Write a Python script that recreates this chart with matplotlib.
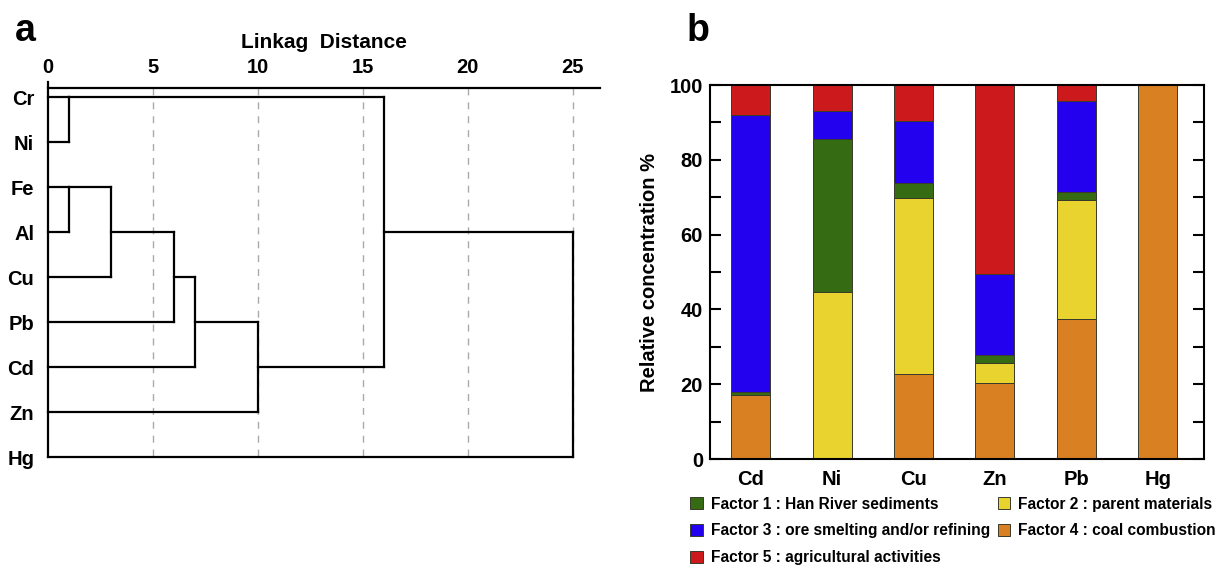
import math
import numpy as np
import matplotlib
matplotlib.use("Agg")
import matplotlib.pyplot as plt

plt.rcParams['font.family'] = ['Liberation Sans', 'DejaVu Sans']
plt.rcParams['font.weight'] = 'bold'

# --- panel a: cluster tree ---
leaves = ['Cr', 'Ni', 'Fe', 'Al', 'Cu', 'Pb', 'Cd', 'Zn', 'Hg']
# (child a, child b, linkage distance); ids >= 9 refer to earlier merges
merges = [(0, 1, 1), (2, 3, 1), (10, 4, 3), (11, 5, 6),
          (12, 6, 7), (13, 7, 10), (9, 14, 16), (15, 8, 25)]
dist_ticks = [0, 5, 10, 15, 20, 25]

# --- panel b: stacked source contributions (%) ---
metals = ['Cd', 'Ni', 'Cu', 'Zn', 'Pb', 'Hg']
factor1 = [0.7, 41.0, 3.8, 2.1, 2.1, 0]
factor2 = [0, 44.6, 47.1, 5.2, 31.9, 0]
factor3 = [74.0, 7.4, 16.6, 21.8, 24.3, 0]
factor4 = [17.2, 0, 22.8, 20.4, 37.4, 100]
factor5 = [8.1, 7.0, 9.7, 50.5, 4.3, 0]
factor_labels = ['Factor 1 : Han River sediments',
                 'Factor 2 : parent materials',
                 'Factor 3 : ore smelting and/or refining',
                 'Factor 4 : coal combustion',
                 'Factor 5 : agricultural activities']
colors = ['#356b12', '#e9d42f', '#2300ee', '#d98022', '#cc1a1c']

fig = plt.figure(figsize=(12.22, 5.69), dpi=100)

# ---------------- dendrogram ----------------
ax1 = fig.add_axes([0.0393, 0.1968, 0.4517, 0.6485])
pos = {i: i for i in range(len(leaves))}
height = {i: 0 for i in range(len(leaves))}
lw = 1.6
for k, (a, b, d) in enumerate(merges):
    node = len(leaves) + k
    for c in (a, b):
        ax1.plot([height[c], d], [pos[c], pos[c]], color='black', lw=lw,
                 clip_on=False, solid_capstyle='projecting')
    ax1.plot([d, d], [pos[a], pos[b]], color='black', lw=lw,
             clip_on=False, solid_capstyle='projecting')
    pos[node] = math.floor((pos[a] + pos[b]) / 2)
    height[node] = d

for t in dist_ticks[1:]:
    ax1.plot([t, t], [-0.2, 8], color='#aaaaaa', lw=1.0,
             dashes=(5, 5), zorder=0)

ax1.set_xlim(0, 26.3)
ax1.set_ylim(8, -0.2)
ax1.spines['right'].set_visible(False)
ax1.spines['bottom'].set_visible(False)
ax1.spines['top'].set_linewidth(lw)
ax1.spines['left'].set_linewidth(lw)
ax1.spines['left'].set_bounds(8, -0.33)
ax1.xaxis.tick_top()
ax1.set_xticks(dist_ticks)
ax1.tick_params(axis='x', length=0, pad=8, labelsize=14.5)
ax1.set_yticks(range(len(leaves)))
ax1.set_yticklabels(leaves)
ax1.tick_params(axis='y', length=0, pad=10, labelsize=14.5)
ax1.set_title('Linkag  Distance', fontsize=15, fontweight='bold', pad=29)
fig.text(0.012, 0.945, 'a', fontsize=27, fontweight='bold', va='center')

# ---------------- stacked bars ----------------
ax2 = fig.add_axes([0.581, 0.1933, 0.4043, 0.6573])
x = np.arange(len(metals))
stack = [(factor4, 3), (factor2, 1), (factor1, 0), (factor3, 2), (factor5, 4)]
bottom = np.zeros(len(metals))
handles = {}
for vals, idx in stack:
    bars = ax2.bar(x, vals, width=0.48, bottom=bottom, color=colors[idx],
                   edgecolor='#3a3a2a', linewidth=0.7, label=factor_labels[idx])
    handles[idx] = bars
    bottom += np.array(vals)

ax2.set_xlim(-0.5, 5.57)
ax2.set_ylim(0, 100)
ax2.set_xticks(x)
ax2.set_xticklabels(metals)
ax2.set_yticks([0, 20, 40, 60, 80, 100])
ax2.set_yticks([10, 30, 50, 70, 90], minor=True)
ax2.tick_params(axis='x', length=0, pad=8, labelsize=14.5)
ax2.tick_params(axis='y', which='both', direction='in', length=8, width=1.5,
                left=True, right=True, labelsize=14.5, pad=5)
for s in ax2.spines.values():
    s.set_linewidth(1.5)
ax2.set_ylabel('Relative concentration %', fontsize=14.5, fontweight='bold',
               labelpad=8)
fig.text(0.562, 0.945, 'b', fontsize=27, fontweight='bold', va='center')

order = [0, 2, 4, 1, 3]
fig.legend([handles[i] for i in order], [factor_labels[i] for i in order],
           loc='upper left', bbox_to_anchor=(0.565, 0.127), ncol=2,
           frameon=False, fontsize=11.2, handlelength=0.8, handleheight=0.8,
           handletextpad=0.5, columnspacing=0.5, labelspacing=0.75,
           borderaxespad=0, borderpad=0)

fig.savefig('out.png', dpi=100)
